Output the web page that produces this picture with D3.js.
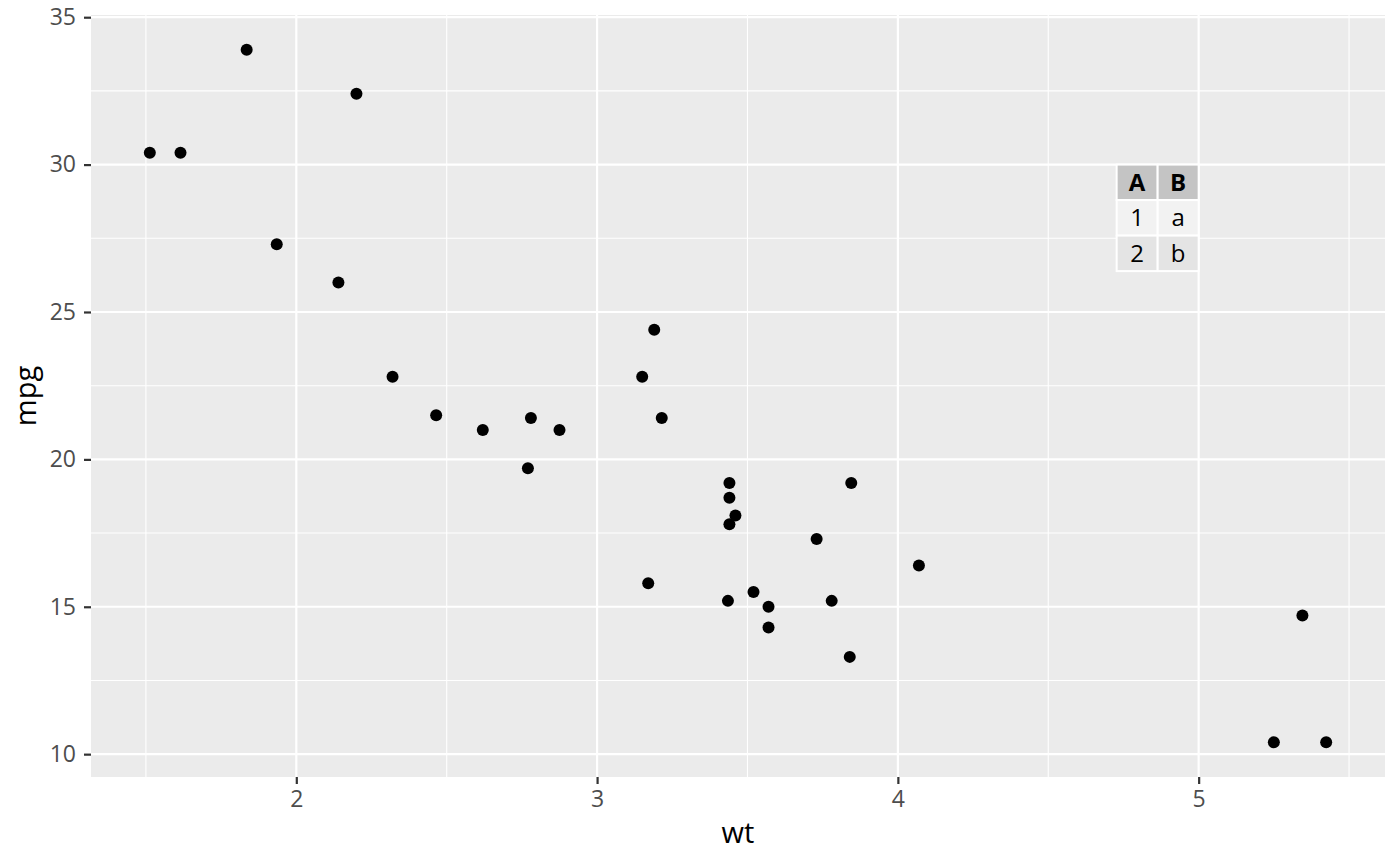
<!DOCTYPE html>
<html>
<head>
<script src="https://d3js.org/d3.v7.min.js"></script>
<style>
body { margin: 0; background: #fff; }
text { font-family: "Open Sans", "Noto Sans", sans-serif; }
</style>
</head>
<body>
<div id="chart"></div>
<script>
// mtcars: weight (1000 lbs) and miles per gallon
const wt  = [2.620, 2.875, 2.320, 3.215, 3.440, 3.460, 3.570, 3.190, 3.150, 3.440, 3.440,
             4.070, 3.730, 3.780, 5.250, 5.424, 5.345, 2.200, 1.615, 1.835, 2.465, 3.520,
             3.435, 3.840, 3.845, 1.935, 2.140, 1.513, 3.170, 2.770, 3.570, 2.780];
const mpg = [21.0, 21.0, 22.8, 21.4, 18.7, 18.1, 14.3, 24.4, 22.8, 19.2, 17.8,
             16.4, 17.3, 15.2, 10.4, 10.4, 14.7, 32.4, 30.4, 33.9, 21.5, 15.5,
             15.2, 13.3, 19.2, 27.3, 26.0, 30.4, 15.8, 19.7, 15.0, 21.4];

const xTicks = [2, 3, 4, 5];
const yTicks = [10, 15, 20, 25, 30, 35];
const xMinor = [1.5, 2.5, 3.5, 4.5, 5.5];
const yMinor = [12.5, 17.5, 22.5, 27.5, 32.5];

// inset table, anchored at top-right on (x = 5, y = 30)
const tableHeader = ["A", "B"];
const tableRows = [["1", "a"], ["2", "b"]];
const tableAnchor = {x: 5, y: 30};

const W = 1400, H = 866;
const margin = {top: 15, right: 15, bottom: 89, left: 91};
const width = W - margin.left - margin.right;
const height = H - margin.top - margin.bottom;

const svg = d3.select("#chart").append("svg")
  .attr("width", W).attr("height", H);

const g = svg.append("g")
  .attr("transform", "translate(" + margin.left + "," + margin.top + ")");

// ggplot-style 5% expansion
const xr = d3.extent(wt), yr = d3.extent(mpg);
const xPad = (xr[1] - xr[0]) * 0.05, yPad = (yr[1] - yr[0]) * 0.05;

const x = d3.scaleLinear().domain([xr[0] - xPad, xr[1] + xPad]).range([0, width]);
const y = d3.scaleLinear().domain([yr[0] - yPad, yr[1] + yPad]).range([height, 0]);

g.append("rect")
  .attr("width", width).attr("height", height)
  .attr("fill", "#ebebeb");

// grid
g.selectAll(".xminor").data(xMinor.filter(d => x(d) >= 0 && x(d) <= width)).enter()
  .append("line")
  .attr("x1", d => x(d)).attr("x2", d => x(d))
  .attr("y1", 0).attr("y2", height)
  .attr("stroke", "#fff").attr("stroke-width", 1.1);

g.selectAll(".yminor").data(yMinor).enter()
  .append("line")
  .attr("y1", d => y(d)).attr("y2", d => y(d))
  .attr("x1", 0).attr("x2", width)
  .attr("stroke", "#fff").attr("stroke-width", 1.1);

g.selectAll(".xmajor").data(xTicks).enter()
  .append("line")
  .attr("x1", d => x(d)).attr("x2", d => x(d))
  .attr("y1", 0).attr("y2", height)
  .attr("stroke", "#fff").attr("stroke-width", 2.2);

g.selectAll(".ymajor").data(yTicks).enter()
  .append("line")
  .attr("y1", d => y(d)).attr("y2", d => y(d))
  .attr("x1", 0).attr("x2", width)
  .attr("stroke", "#fff").attr("stroke-width", 2.2);

// axes
const xAxis = g.append("g")
  .attr("transform", "translate(0," + height + ")")
  .call(d3.axisBottom(x).tickValues(xTicks).tickSize(7).tickPadding(7).tickFormat(d3.format("d")));

const yAxis = g.append("g")
  .call(d3.axisLeft(y).tickValues(yTicks).tickSize(7).tickPadding(8).tickFormat(d3.format("d")));

[xAxis, yAxis].forEach(a => {
  a.select(".domain").remove();
  a.selectAll(".tick line").attr("stroke", "#333").attr("stroke-width", 2.2);
  a.selectAll(".tick text")
    .attr("fill", "#4d4d4d")
    .style("font-size", "23px")
    .style("font-family", "'Open Sans', 'Noto Sans', sans-serif");
});

// axis titles
svg.append("text")
  .attr("x", margin.left + width / 2).attr("y", 843)
  .attr("text-anchor", "middle")
  .style("font-size", "29px").attr("fill", "#000")
  .text("wt");

svg.append("text")
  .attr("transform", "translate(" + 36 + "," + (margin.top + height / 2) + ") rotate(-90)")
  .attr("text-anchor", "middle")
  .style("font-size", "29px").attr("fill", "#000")
  .text("mpg");

// points
g.selectAll(".dot").data(wt).enter()
  .append("circle")
  .attr("cx", d => x(d))
  .attr("cy", (d, i) => y(mpg[i]))
  .attr("r", 6)
  .attr("fill", "#000");

// table
const colW = 41, rowH = 35.5;
const tRight = x(tableAnchor.x), tTop = y(tableAnchor.y);
const tLeft = tRight - colW * tableHeader.length;
const allRows = [tableHeader].concat(tableRows);
const fills = ["#c4c4c4", "#f2f2f2", "#e4e4e4"];

const tbl = g.append("g");
allRows.forEach((row, r) => {
  row.forEach((cell, c) => {
    tbl.append("rect")
      .attr("x", tLeft + c * colW).attr("y", tTop + r * rowH)
      .attr("width", colW).attr("height", rowH)
      .attr("fill", fills[r])
      .attr("stroke", "#fff").attr("stroke-width", 2);
    tbl.append("text")
      .attr("x", tLeft + c * colW + colW / 2)
      .attr("y", tTop + r * rowH + rowH / 2)
      .attr("dy", "0.36em")
      .attr("text-anchor", "middle")
      .style("font-size", "24px")
      .style("font-weight", r === 0 ? "bold" : "normal")
      .attr("fill", "#000")
      .text(cell);
  });
});
</script>
</body>
</html>
